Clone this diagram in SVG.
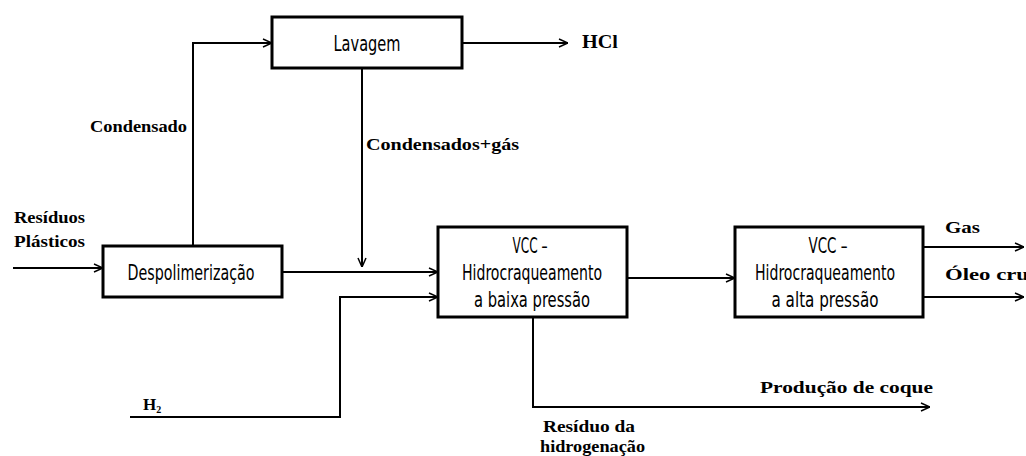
<svg xmlns="http://www.w3.org/2000/svg" width="1026" height="456" viewBox="0 0 1026 456">
<defs>
<marker id="arr" viewBox="0 0 10 10" refX="10" refY="5" markerWidth="10" markerHeight="10" markerUnits="userSpaceOnUse" orient="auto">
<path d="M1,1 L10,5 L1,9" fill="none" stroke="#000" stroke-width="1.5"/>
</marker>
<style>
.box{fill:#fff;stroke:#000;stroke-width:3}
.bt{font-family:"DejaVu Sans Condensed","Liberation Sans Narrow",sans-serif;font-stretch:condensed;font-size:21px;fill:#000;text-anchor:middle}
.lb{font-family:"Liberation Serif",serif;font-weight:bold;font-size:16px;fill:#000}
.ln{fill:none;stroke:#000;stroke-width:2}
</style>
</defs>
<rect width="1026" height="456" fill="#fff"/>
<g id="connectors">
<path class="ln" d="M193,246 V43 H272" marker-end="url(#arr)"/>
<path class="ln" d="M462,43 H568" marker-end="url(#arr)"/>
<path class="ln" d="M362,68 V267" marker-end="url(#arr)"/>
<path class="ln" d="M13,268 H103" marker-end="url(#arr)"/>
<path class="ln" d="M282,272 H438" marker-end="url(#arr)"/>
<path class="ln" d="M130,417 H340 V297 H438" marker-end="url(#arr)"/>
<path class="ln" d="M627,278 H735" marker-end="url(#arr)"/>
<path class="ln" d="M923,247 H1024" marker-end="url(#arr)"/>
<path class="ln" d="M923,297 H1024" marker-end="url(#arr)"/>
<path class="ln" d="M533,305 V407 H930" marker-end="url(#arr)"/>
</g>
<g id="lavagem">
<rect class="box" x="272" y="17" width="190" height="51"/>
<text class="bt" x="367" y="51" textLength="67" lengthAdjust="spacingAndGlyphs">Lavagem</text>
</g>
<g id="despolimerizacao">
<rect class="box" x="103" y="246" width="179" height="51"/>
<text class="bt" x="191" y="280" textLength="127" lengthAdjust="spacingAndGlyphs">Despolimerização</text>
</g>
<g id="vcc1">
<rect class="box" x="438" y="227" width="189" height="90"/>
<text class="bt" x="530" y="253" textLength="35" lengthAdjust="spacingAndGlyphs">VCC –</text>
<text class="bt" x="532" y="280" textLength="140" lengthAdjust="spacingAndGlyphs">Hidrocraqueamento</text>
<text class="bt" x="532" y="307" textLength="116" lengthAdjust="spacingAndGlyphs">a baixa pressão</text>
</g>
<g id="vcc2">
<rect class="box" x="735" y="227" width="188" height="90"/>
<text class="bt" x="828" y="253" textLength="39" lengthAdjust="spacingAndGlyphs">VCC –</text>
<text class="bt" x="825" y="280" textLength="140" lengthAdjust="spacingAndGlyphs">Hidrocraqueamento</text>
<text class="bt" x="825" y="307" textLength="107" lengthAdjust="spacingAndGlyphs">a alta pressão</text>
</g>
<g id="labels">
<text class="lb" x="582" y="48" style="font-size:18px" textLength="36" lengthAdjust="spacingAndGlyphs">HCl</text>
<text class="lb" x="90" y="132" textLength="97" lengthAdjust="spacingAndGlyphs">Condensado</text>
<text class="lb" x="366" y="150" textLength="153" lengthAdjust="spacingAndGlyphs">Condensados+gás</text>
<text class="lb" x="14" y="223" textLength="71" lengthAdjust="spacingAndGlyphs">Resíduos</text>
<text class="lb" x="14" y="247" textLength="71" lengthAdjust="spacingAndGlyphs">Plásticos</text>
<text class="lb" x="143" y="410" style="font-size:17px">H<tspan style="font-size:10px" dy="3">2</tspan></text>
<text class="lb" x="945" y="233" textLength="35" lengthAdjust="spacingAndGlyphs">Gas</text>
<text class="lb" x="945" y="280" style="font-size:17px" textLength="84" lengthAdjust="spacingAndGlyphs">Óleo cru</text>
<text class="lb" x="760" y="393" style="font-size:17px" textLength="173" lengthAdjust="spacingAndGlyphs">Produção de coque</text>
<text class="lb" x="543" y="432" textLength="92" lengthAdjust="spacingAndGlyphs">Resíduo da</text>
<text class="lb" x="540" y="452" textLength="105" lengthAdjust="spacingAndGlyphs">hidrogenação</text>
</g>
</svg>
